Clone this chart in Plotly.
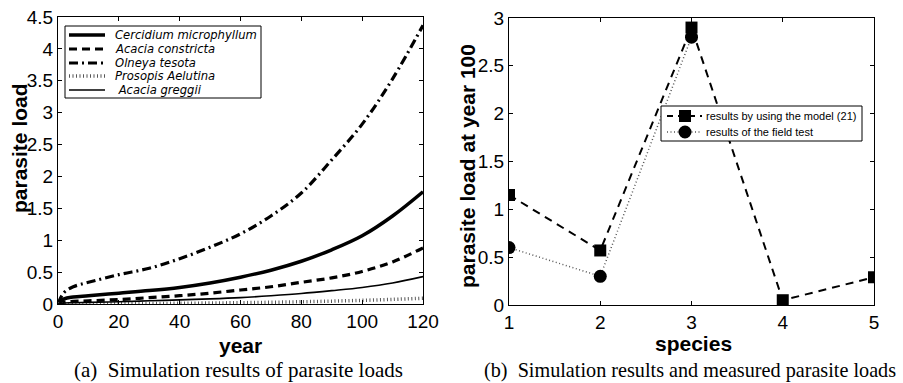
import plotly.graph_objects as go

# ---------------- data ----------------
years = [0, 2, 5, 10, 20, 30, 40, 50, 60, 70, 80, 90, 100, 110, 120]
cercidium = [0, 0.08, 0.11, 0.13, 0.17, 0.21, 0.26, 0.33, 0.42, 0.53, 0.67, 0.85, 1.07, 1.38, 1.76]
constricta = [0, 0.03, 0.04, 0.05, 0.07, 0.10, 0.13, 0.17, 0.22, 0.27, 0.34, 0.41, 0.51, 0.66, 0.88]
olneya = [0, 0.18, 0.27, 0.34, 0.46, 0.56, 0.71, 0.89, 1.10, 1.38, 1.74, 2.26, 2.82, 3.53, 4.37]
prosopis = [0, 0.002, 0.003, 0.004, 0.006, 0.008, 0.011, 0.015, 0.02, 0.027, 0.035, 0.045, 0.057, 0.072, 0.09]
greggii = [0, 0.015, 0.02, 0.025, 0.035, 0.05, 0.065, 0.08, 0.10, 0.13, 0.165, 0.21, 0.26, 0.33, 0.43]

species = [1, 2, 3, 4, 5]
model_vals = [1.15, 0.57, 2.9, 0.05, 0.29]
field_species = [1, 2, 3]
field_vals = [0.6, 0.3, 2.8]

left_names = ["Cercidium microphyllum", "Acacia constricta", "Olneya tesota",
              "Prosopis Aelutina", " Acacia greggii"]
right_names = ["results by using the model (21)", "results of the field test"]

W, H = 903, 383
def px(x):
    return x / W
def py(y):
    return 1 - y / H

SANS = "Liberation Sans, Arial, Helvetica, sans-serif"
WIDE = "DejaVu Sans, Verdana, sans-serif"
SERIF = "Liberation Serif, Times New Roman, serif"

styles = [
    dict(width=3.5, dash="solid", color="black"),
    dict(width=3.2, dash="8px,5px", color="black"),
    dict(width=3.2, dash="9px,4px,2px,4px", color="black"),
    dict(width=3.5, dash="1px,2.5px", color="#555555"),
    dict(width=1.6, dash="solid", color="black"),
]
series = [cercidium, constricta, olneya, prosopis, greggii]

fig = go.Figure()
for name, ys, st in zip(left_names, series, styles):
    fig.add_trace(go.Scatter(x=years, y=ys, mode="lines", name=name.strip(),
                             line=dict(color=st["color"], width=st["width"], dash=st["dash"], shape="spline", smoothing=1.0),
                             xaxis="x", yaxis="y", showlegend=False))

fig.add_trace(go.Scatter(x=field_species, y=field_vals, mode="lines+markers", name=right_names[1],
                         line=dict(color="#555555", width=1.5, dash="1px,2.5px"),
                         marker=dict(symbol="circle", size=13, color="black"),
                         xaxis="x2", yaxis="y2", showlegend=False))
fig.add_trace(go.Scatter(x=species, y=model_vals, mode="lines+markers", name=right_names[0],
                         line=dict(color="black", width=2, dash="8px,6px"),
                         marker=dict(symbol="square", size=12, color="black"),
                         xaxis="x2", yaxis="y2", showlegend=False))

axis_common = dict(showline=True, linecolor="black", linewidth=1, mirror="ticks",
                   ticks="inside", ticklen=4, tickcolor="black", showgrid=False, zeroline=False,
                   automargin=False,
                   tickfont=dict(family=SANS, size=19, color="black"))

fig.update_layout(
    template="none",
    width=W, height=H, margin=dict(l=0, r=0, t=0, b=0, pad=0, autoexpand=False),
    paper_bgcolor="white", plot_bgcolor="white", showlegend=False,
    xaxis=dict(domain=[px(58), px(423)], range=[0, 120], dtick=20, tick0=0, anchor="y", **axis_common),
    yaxis=dict(domain=[py(304), py(17)], range=[0, 4.5], dtick=0.5, tick0=0, anchor="x", **axis_common),
    xaxis2=dict(domain=[px(509), px(874)], range=[1, 5], dtick=1, tick0=1, anchor="y2", **axis_common),
    yaxis2=dict(domain=[py(305), py(18)], range=[0, 3], dtick=0.5, tick0=0, anchor="x2", **axis_common),
)

annotations = []
shapes = []
# axis titles
title_font = dict(family=SANS, size=21, color="black")
annotations.append(dict(text="<b>year</b>", x=px(240), y=py(345), xref="paper", yref="paper",
                        showarrow=False, xanchor="center", yanchor="middle", font=title_font))
annotations.append(dict(text="<b>parasite load</b>", x=px(20), y=py(148), xref="paper", yref="paper",
                        showarrow=False, xanchor="center", yanchor="middle", textangle=-90, font=title_font))
annotations.append(dict(text="<b>species</b>", x=px(693), y=py(343), xref="paper", yref="paper",
                        showarrow=False, xanchor="center", yanchor="middle", font=title_font))
annotations.append(dict(text="<b>parasite load at year 100</b>", x=px(468), y=py(166), xref="paper", yref="paper",
                        showarrow=False, xanchor="center", yanchor="middle", textangle=-90, font=title_font))
# captions
annotations.append(dict(text="(a)\u00a0\u00a0Simulation results of parasite loads", x=px(238), y=py(370),
                        xref="paper", yref="paper", showarrow=False, xanchor="center", yanchor="middle",
                        font=dict(family=SERIF, size=21, color="black")))
annotations.append(dict(text="(b)\u00a0\u00a0Simulation results and measured parasite loads", x=px(690), y=py(370),
                        xref="paper", yref="paper", showarrow=False, xanchor="center", yanchor="middle",
                        font=dict(family=SERIF, size=20.2, color="black")))

# left legend
shapes.append(dict(type="rect", xref="paper", yref="paper", x0=px(65), x1=px(261), y0=py(98), y1=py(26),
                   line=dict(color="black", width=1), fillcolor="white", layer="above"))
rows = [35, 49, 63, 76, 90]
for name, st, ry in zip(left_names, styles, rows):
    shapes.append(dict(type="line", xref="paper", yref="paper", x0=px(69), x1=px(105), y0=py(ry), y1=py(ry),
                       line=dict(color=st["color"], width=st["width"], dash=st["dash"]), layer="above"))
    annotations.append(dict(text="<i>" + name.replace(" ", "\u00a0") + "</i>", x=px(114), y=py(ry),
                            xref="paper", yref="paper", showarrow=False, xanchor="left", yanchor="middle",
                            borderpad=0,
                            font=dict(family=WIDE, size=11.6, color="black")))

# right legend
shapes.append(dict(type="rect", xref="paper", yref="paper", x0=px(661), x1=px(862), y0=py(141), y1=py(106),
                   line=dict(color="black", width=1), fillcolor="white", layer="above"))
r1, r2 = 116, 132
shapes.append(dict(type="line", xref="paper", yref="paper", x0=px(667), x1=px(702), y0=py(r1), y1=py(r1),
                   line=dict(color="black", width=2, dash="6px,5px"), layer="above"))
shapes.append(dict(type="rect", xref="paper", yref="paper", x0=px(679), x1=px(691), y0=py(r1 + 6), y1=py(r1 - 6),
                   line=dict(color="black", width=0), fillcolor="black", layer="above"))
shapes.append(dict(type="line", xref="paper", yref="paper", x0=px(667), x1=px(702), y0=py(r2), y1=py(r2),
                   line=dict(color="#555555", width=1.5, dash="1px,2.5px"), layer="above"))
shapes.append(dict(type="circle", xref="paper", yref="paper", x0=px(678.5), x1=px(691.5), y0=py(r2 + 6.5), y1=py(r2 - 6.5),
                   line=dict(color="black", width=0), fillcolor="black", layer="above"))
for name, ry in zip(right_names, [r1, r2]):
    annotations.append(dict(text=name, x=px(705), y=py(ry), xref="paper", yref="paper", showarrow=False,
                            xanchor="left", yanchor="middle", borderpad=0,
                            font=dict(family=SANS, size=11, color="black")))

fig.update_layout(annotations=annotations, shapes=shapes)
fig.write_html("out.html")
